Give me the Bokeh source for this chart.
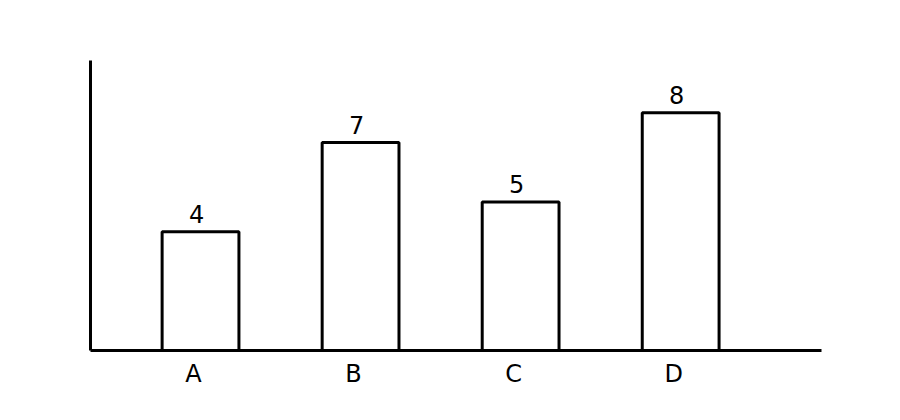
from bokeh.plotting import figure
from bokeh.models import ColumnDataSource, Range1d, LabelSet, FixedTicker
from bokeh.core.properties import value
from bokeh.embed import file_html
from bokeh.resources import INLINE

categories = ["A", "B", "C", "D"]
values = [4, 7, 5, 8]

xs = list(range(len(categories)))
src = ColumnDataSource(dict(x=xs, top=values, cat=categories,
                            lab=[str(v) for v in values]))

x0, x1 = -0.6875, 3.88
label_shift = 7 / 160.0  # category labels sit 7px left of bar centres
p = figure(width=900, height=420, output_backend="svg", toolbar_location=None,
           x_range=Range1d(x0, x1), y_range=Range1d(0, 9.76),
           min_border_left=90, min_border_right=79, min_border_top=60, min_border_bottom=70)
p.extra_x_ranges = {"lab": Range1d(x0 + label_shift, x1 + label_shift)}
p.outline_line_color = None
p.xgrid.visible = False
p.ygrid.visible = False
p.background_fill_color = "white"
p.border_fill_color = "white"

xa = p.xaxis[0]
xa.x_range_name = "lab"
xa.ticker = FixedTicker(ticks=xs)
xa.major_label_overrides = {i: c for i, c in zip(xs, categories)}
xa.major_label_text_font = "DejaVu Sans"
xa.major_label_text_font_size = "24px"
xa.major_label_text_color = "black"
xa.major_label_standoff = 9
xa.major_tick_out = 0
xa.major_tick_in = 0

ya = p.yaxis[0]
ya.major_label_text_font_size = "0px"
ya.major_label_text_color = None

for ax in (xa, ya):
    ax.axis_line_width = 3
    ax.axis_line_color = "black"
    ax.major_tick_line_color = None
    ax.minor_tick_line_color = None

p.vbar(x="x", top="top", bottom=0, width=0.48, source=src,
       fill_color="white", line_color="black", line_width=3)

font = value("DejaVu Sans")
p.add_layout(LabelSet(x="x", y="top", text="lab", source=src, text_font=font,
                      text_font_size=value("24px"), text_align="center", text_baseline="alphabetic",
                      x_offset=-4, y_offset=9, text_color="black"))

open("out.html", "w").write(file_html(p, INLINE))
